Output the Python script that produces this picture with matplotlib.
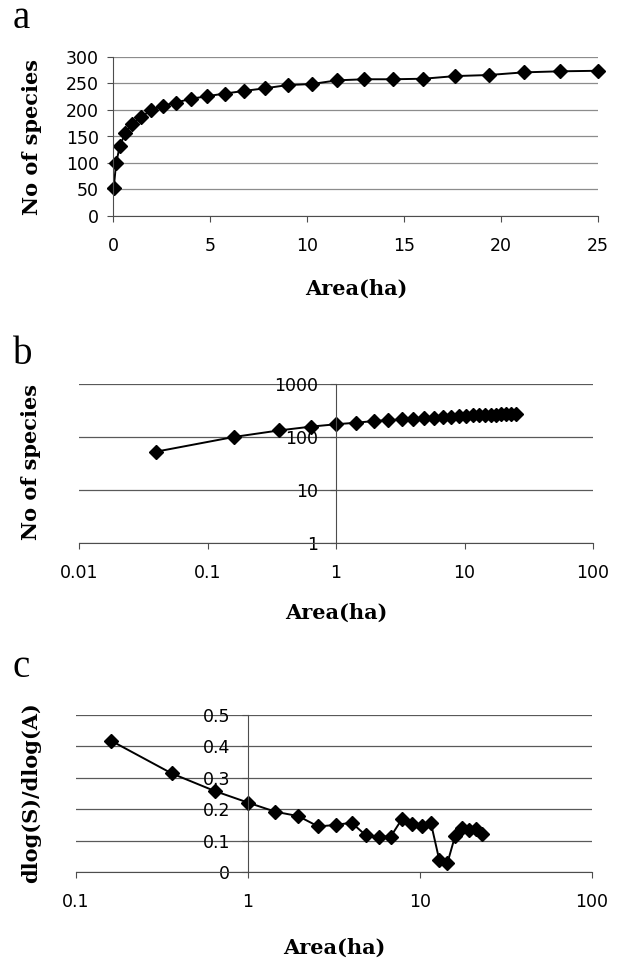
import matplotlib
matplotlib.use('agg')
import matplotlib.pyplot as plt

# sampling areas (ha) and cumulative species counts
area = [0.04, 0.16, 0.36, 0.64, 1.0, 1.44, 1.96, 2.56, 3.24, 4.0, 4.84, 5.76,
        6.76, 7.84, 9.0, 10.24, 11.56, 12.96, 14.44, 16.0, 17.64, 19.36,
        21.16, 23.04, 25.0]
species = [53, 100, 133, 157, 174, 186, 200, 208, 214, 221, 226, 231,
           236, 241, 247, 249, 256, 258, 258, 259, 264, 266, 271, 273, 274]

# local slope dlog(S)/dlog(A)
slope_area = [0.16, 0.36, 0.64, 1.0, 1.44, 1.96, 2.56, 3.24, 4.0, 4.84, 5.76,
              6.76, 7.84, 9.0, 10.24, 11.56, 12.96, 14.44, 16.0, 17.64,
              19.36, 21.16, 23.04]
slope = [0.418, 0.314, 0.258, 0.221, 0.192, 0.178, 0.145, 0.150, 0.157,
         0.117, 0.113, 0.113, 0.168, 0.152, 0.145, 0.157, 0.037, 0.029,
         0.115, 0.140, 0.134, 0.137, 0.122]

W, H = 618, 959
SERIF = 'DejaVu Serif'
SANS = 'DejaVu Sans'


def box(left, right, top, bottom):
    return [left / W, 1 - bottom / H, (right - left) / W, (bottom - top) / H]


def fx(px):
    return px / W


def fy(py):
    return 1 - py / H


def style(ax, grid_color, ypad):
    for s in ['top', 'right']:
        ax.spines[s].set_visible(False)
    for s in ['left', 'bottom']:
        ax.spines[s].set_color('0.3')
        ax.spines[s].set_linewidth(0.8)
    ax.tick_params(direction='out', length=4, width=0.8, color='0.3',
                   labelsize=12.5)
    ax.tick_params(axis='x', pad=11)
    ax.tick_params(axis='y', pad=ypad)
    ax.tick_params(which='minor', length=0)
    for lab in ax.get_xticklabels() + ax.get_yticklabels():
        lab.set_fontfamily(SANS)
    ax.yaxis.grid(True, color=grid_color, linewidth=0.9)
    ax.set_axisbelow(True)


def labels(ax, ylab, ypos, xpos):
    ax.set_ylabel(ylab, fontfamily=SERIF, fontweight='bold', fontsize=15)
    ax.yaxis.set_label_coords(fx(ypos[0]), fy(ypos[1]), transform=fig.transFigure)
    ax.yaxis.label.set_verticalalignment('center')
    ax.set_xlabel('Area(ha)', fontfamily=SERIF, fontweight='bold', fontsize=15)
    ax.xaxis.set_label_coords(fx(xpos[0]), fy(xpos[1]), transform=fig.transFigure)
    ax.xaxis.label.set_verticalalignment('center')


fig = plt.figure(figsize=(W / 100, H / 100), dpi=100)
line_kw = dict(color='black', linewidth=1.4, marker='D', markersize=7,
               markerfacecolor='black', markeredgecolor='black')

# panel a
ax = fig.add_axes(box(113, 598, 57, 216))
ax.plot(area, species, clip_on=False, **line_kw)
ax.set_xlim(0, 25)
ax.set_ylim(0, 300)
ax.set_xticks([0, 5, 10, 15, 20, 25])
ax.set_yticks([0, 50, 100, 150, 200, 250, 300])
style(ax, '0.55', 6)
labels(ax, 'No of species', (32, 137), (356, 289))
fig.text(fx(13), fy(28), 'a', fontfamily='Liberation Serif', fontsize=28,
         ha='left', va='baseline')

# panel b
ax = fig.add_axes(box(79, 593, 384, 543))
ax.plot(area, species, clip_on=False, **line_kw)
ax.set_xscale('log')
ax.set_yscale('log')
ax.set_xlim(0.01, 100)
ax.set_ylim(1, 1000)
ax.set_xticks([0.01, 0.1, 1, 10, 100])
ax.set_xticklabels(['0.01', '0.1', '1', '10', '100'])
ax.set_yticks([1, 10, 100, 1000])
ax.set_yticklabels(['1', '10', '100', '1000'])
ax.spines['left'].set_position(('data', 1))
style(ax, '0.35', 9)
labels(ax, 'No of species', (31, 462), (336, 613))
fig.text(fx(13), fy(364), 'b', fontfamily='Liberation Serif', fontsize=28,
         ha='left', va='baseline')

# panel c
ax = fig.add_axes(box(76, 592, 715, 872))
ax.plot(slope_area, slope, clip_on=False, **line_kw)
ax.set_xscale('log')
ax.set_xlim(0.1, 100)
ax.set_ylim(0, 0.5)
ax.set_xticks([0.1, 1, 10, 100])
ax.set_xticklabels(['0.1', '1', '10', '100'])
ax.set_yticks([0, 0.1, 0.2, 0.3, 0.4, 0.5])
ax.set_yticklabels(['0', '0.1', '0.2', '0.3', '0.4', '0.5'])
ax.spines['left'].set_position(('data', 1))
style(ax, '0.35', 9)
labels(ax, 'dlog(S)/dlog(A)', (31, 793), (334, 948))
fig.text(fx(13), fy(677), 'c', fontfamily='Liberation Serif', fontsize=28,
         ha='left', va='baseline')

fig.savefig('out.png', dpi=100)
